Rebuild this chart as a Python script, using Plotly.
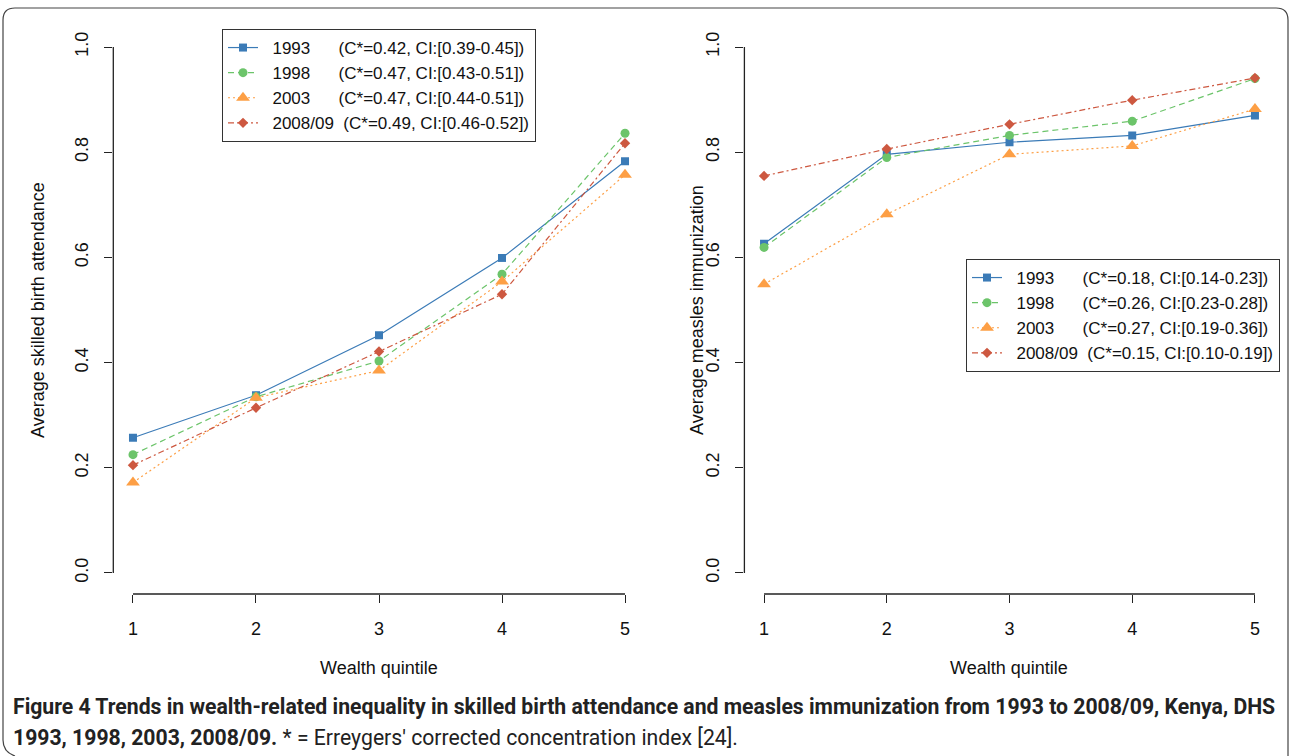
import plotly.graph_objects as go

# ---------------- data ----------------
quintiles = [1, 2, 3, 4, 5]
years = ["1993", "1998", "2003", "2008/09"]

sba_1993 = [0.257, 0.338, 0.452, 0.599, 0.783]
sba_1998 = [0.225, 0.335, 0.403, 0.568, 0.836]
sba_2003 = [0.172, 0.333, 0.385, 0.554, 0.757]
sba_2008 = [0.205, 0.314, 0.421, 0.530, 0.817]

mea_1993 = [0.626, 0.796, 0.819, 0.832, 0.870]
mea_1998 = [0.619, 0.790, 0.832, 0.859, 0.940]
mea_2003 = [0.549, 0.682, 0.796, 0.812, 0.882]
mea_2008 = [0.755, 0.806, 0.853, 0.899, 0.941]

sba_ci = ["(C*=0.42, CI:[0.39-0.45])", "(C*=0.47, CI:[0.43-0.51])",
          "(C*=0.47, CI:[0.44-0.51])", "(C*=0.49, CI:[0.46-0.52])"]
mea_ci = ["(C*=0.18, CI:[0.14-0.23])", "(C*=0.26, CI:[0.23-0.28])",
          "(C*=0.27, CI:[0.19-0.36])", "(C*=0.15, CI:[0.10-0.19])"]

y_ticks = [0.0, 0.2, 0.4, 0.6, 0.8, 1.0]
y_ticklabels = ["0.0", "0.2", "0.4", "0.6", "0.8", "1.0"]

# ---------------- styles ----------------
colors = ["#3b7bb7", "#6cc46a", "#fd9f45", "#cd5840"]
dashes = ["solid", "6px,4px", "2px,3px", "6px,3px,2px,3px"]
symbols = ["square", "circle", "triangle-up", "diamond"]
msizes = [8, 9, 12, 8]
pad = [6, 6, 6, 2]

FONT = "Liberation Sans, Arial, Helvetica, sans-serif"
W, H = 1290, 756
FS = 18

def px(x):
    return x / W

def py(y):
    return 1 - y / H

fig = go.Figure()

sba = [sba_1993, sba_1998, sba_2003, sba_2008]
mea = [mea_1993, mea_1998, mea_2003, mea_2008]
lead = "\u00a0" * 2

for i, yr in enumerate(years):
    name = lead + yr + "\u00a0" * pad[i] + sba_ci[i]
    fig.add_trace(go.Scatter(
        x=quintiles, y=sba[i], mode="lines+markers", name=name,
        line=dict(color=colors[i], width=1.2, dash=dashes[i]),
        marker=dict(color=colors[i], symbol=symbols[i], size=msizes[i]),
        xaxis="x", yaxis="y", legend="legend"))
for i, yr in enumerate(years):
    name = lead + yr + "\u00a0" * pad[i] + mea_ci[i]
    fig.add_trace(go.Scatter(
        x=quintiles, y=mea[i], mode="lines+markers", name=name,
        line=dict(color=colors[i], width=1.2, dash=dashes[i]),
        marker=dict(color=colors[i], symbol=symbols[i], size=msizes[i]),
        xaxis="x2", yaxis="y2", legend="legend2"))

ydom = [py(594), py(26)]
common_x = dict(range=[0.84, 5.16], tickvals=quintiles, ticktext=[str(q) for q in quintiles],
                showline=False, showgrid=False, zeroline=False, ticks="outside",
                ticklen=8, tickcolor="#222", tickfont=dict(size=FS, color="#111", family=FONT),
                ticklabelstandoff=10)
common_y = dict(range=[-0.04, 1.04], tickvals=y_ticks, ticktext=y_ticklabels,
                showline=False, showgrid=False, zeroline=False, ticks="outside",
                ticklen=8, tickcolor="#222", tickangle=-90,
                tickfont=dict(size=FS, color="#111", family=FONT),
                ticklabelstandoff=9)

leg = dict(xanchor="left", yanchor="top", bgcolor="white", bordercolor="#333", borderwidth=1,
           font=dict(size=17, family=FONT, color="#111"), tracegroupgap=0)

fig.update_layout(
    width=W, height=H,
    margin=dict(l=0, r=0, t=0, b=0),
    paper_bgcolor="white", plot_bgcolor="white",
    font=dict(family=FONT, color="#111"),
    xaxis=dict(domain=[px(113.3), px(644.7)], anchor="y", **common_x),
    yaxis=dict(domain=ydom, anchor="x", **common_y),
    xaxis2=dict(domain=[px(744.4), px(1274.6)], anchor="y2", **common_x),
    yaxis2=dict(domain=ydom, anchor="x2", **common_y),
    legend=dict(x=px(222), y=py(29), **leg),
    legend2=dict(x=px(966), y=py(259), **leg),
    showlegend=True,
)

shapes = []
# R-style axis lines spanning first to last tick
for xa, ya in [("x", "y"), ("x2", "y2")]:
    shapes.append(dict(type="line", xref=xa, yref=ya + " domain", x0=1, x1=5, y0=0, y1=0,
                       line=dict(color="#222", width=1.3)))
    shapes.append(dict(type="line", xref=xa + " domain", yref=ya, x0=0, x1=0, y0=0, y1=1,
                       line=dict(color="#222", width=1.3)))
# rounded frame of the figure panel
path = (f"M {px(1288)},{py(770)} L {px(1288)},{py(20)} Q {px(1288)},{py(8)} {px(1276)},{py(8)} "
        f"L {px(15)},{py(8)} Q {px(3)},{py(8)} {px(3)},{py(20)} L {px(3)},{py(740)} "
        f"Q {px(3)},{py(752)} {px(15)},{py(756)}")
shapes.append(dict(type="path", xref="paper", yref="paper", path=path,
                   line=dict(color="#444", width=1.2)))
fig.update_layout(shapes=shapes)

ann = []
def title(text, x, y, angle=0):
    ann.append(dict(text=text, x=px(x), y=py(y), xref="paper", yref="paper",
                    xanchor="center", yanchor="middle", textangle=angle,
                    showarrow=False, font=dict(size=FS, family=FONT, color="#111")))

title("Average skilled birth attendance", 38, 310, -90)
title("Average measles immunization", 697, 310, -90)
title("Wealth quintile", 379, 668)
title("Wealth quintile", 1009, 668)

CAP = "Roboto, Open Sans, sans-serif"
ann.append(dict(text="<b>Figure 4 Trends in wealth-related inequality in skilled birth attendance and measles immunization from 1993 to 2008/09, Kenya, DHS</b>",
                x=px(11), y=py(706), xref="paper", yref="paper", xanchor="left", yanchor="middle",
                showarrow=False, font=dict(size=21.2, family=CAP, color="#222")))
ann.append(dict(text="<b>1993, 1998, 2003, 2008/09.</b> * = Erreygers' corrected concentration index [24].",
                x=px(11), y=py(737), xref="paper", yref="paper", xanchor="left", yanchor="middle",
                showarrow=False, font=dict(size=21.2, family=CAP, color="#222")))
fig.update_layout(annotations=ann)

fig.write_html("out.html", config={"displayModeBar": False},
               post_script="document.body.style.margin='0';")
